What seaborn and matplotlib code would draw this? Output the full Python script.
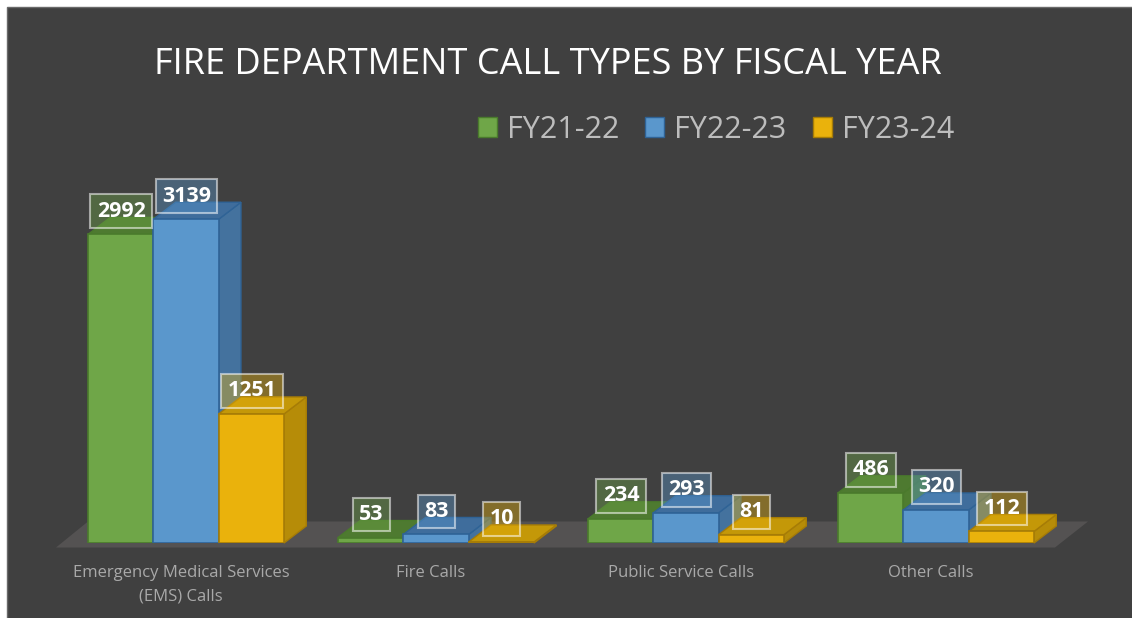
import pandas as pd
import matplotlib
matplotlib.use('Agg')
import matplotlib.pyplot as plt
import seaborn as sns
from matplotlib.patches import Polygon, Rectangle
from matplotlib.transforms import ScaledTranslation

# ─────────────────────────────────────────────
# DATA
# ─────────────────────────────────────────────
categories = ['Emergency Medical Services\n(EMS) Calls', 'Fire Calls',
              'Public Service Calls', 'Other Calls']
fiscal_years = ['FY21-22', 'FY22-23', 'FY23-24']
fy21_22 = [2992, 53, 234, 486]
fy22_23 = [3139, 83, 293, 320]
fy23_24 = [1251, 10, 81, 112]

front_colors = ['#6fa648', '#5a97cc', '#eab20c']
edge_colors = ['#4a7a2c', '#2f6396', '#a67c06']
side_colors = ['#4f7d30', '#44729e', '#b68c08']
top_colors = ['#4e7a30', '#3f6d9c', '#c49808']

df = pd.DataFrame({'category': categories, 'FY21-22': fy21_22,
                   'FY22-23': fy22_23, 'FY23-24': fy23_24})
df = df.melt(id_vars='category', var_name='fy', value_name='calls')

# ─────────────────────────────────────────────
# FIGURE
# ─────────────────────────────────────────────
W, H = 1132, 618
plt.rcParams['font.family'] = ['Open Sans', 'DejaVu Sans']
fig = plt.figure(figsize=(W / 100, H / 100), dpi=100, facecolor='white')
fig.add_artist(Rectangle((7 / W, -0.01), 1.01 - 7 / W, 1.01 - 7 / H, transform=fig.transFigure,
                         facecolor='#404040', edgecolor='#6a6a6a', linewidth=1, zorder=-1))

YMAX = 3500
ax = fig.add_axes([61 / W, 1 - 543 / H, 1000 / W, 361 / H])
ax.patch.set_alpha(0)

sns.barplot(data=df, x='category', y='calls', hue='fy', hue_order=fiscal_years,
            palette=front_colors, saturation=1, width=0.784, gap=0, ax=ax)
ax.set_xlim(-0.5, 3.5)
ax.set_ylim(0, YMAX)

px_x = 1 / 250                # one pixel in x data units
px_y = YMAX / 361             # one pixel in y data units
dx, dy = 22.3 * px_x, 17 * px_y

# floor plane
ax.add_patch(Polygon([(-5 * px_x - 0.5, -4.5 * px_y), (27 * px_x - 0.5, 21.5 * px_y),
                      (1027 * px_x - 0.5, 21.5 * px_y), (994 * px_x - 0.5, -4.5 * px_y)],
                     closed=True, facecolor='#545252', edgecolor='none',
                     clip_on=False, zorder=1))

# ─────────────────────────────────────────────
# 3D FACES AND DATA LABELS
# ─────────────────────────────────────────────
for i, container in enumerate(ax.containers):
    z = 3 + i
    for bar in container:
        x0, x1 = bar.get_x(), bar.get_x() + bar.get_width()
        h = bar.get_height()
        bar.set_facecolor(front_colors[i])
        bar.set_edgecolor(edge_colors[i])
        bar.set_linewidth(1.2)
        bar.set_zorder(z)
        ax.add_patch(Polygon([(x1, 0), (x1 + dx, dy), (x1 + dx, h + dy), (x1, h)],
                             closed=True, facecolor=side_colors[i], edgecolor=edge_colors[i],
                             linewidth=1, clip_on=False, zorder=z - 0.5))
        ax.add_patch(Polygon([(x0, h), (x0 + dx, h + dy), (x1 + dx, h + dy), (x1, h)],
                             closed=True, facecolor=top_colors[i], edgecolor=edge_colors[i],
                             linewidth=1, clip_on=False, zorder=z - 0.5))
        ax.text((x0 + x1) / 2 + 0.5 * px_x, h + 23 * px_y, f'{int(h)}',
                ha='center', va='center', color='white', fontsize=15.4, fontweight='bold',
                zorder=10, clip_on=False,
                bbox=dict(boxstyle='square,pad=0.3', facecolor=front_colors[i] + '66',
                          edgecolor='#ffffff88', linewidth=1.5))

# ─────────────────────────────────────────────
# AXES, TITLE, LEGEND
# ─────────────────────────────────────────────
sns.despine(ax=ax, left=True, bottom=True)
ax.set_xlabel('')
ax.set_ylabel('')
ax.set_yticks([])
ax.tick_params(axis='x', length=0, pad=16)
ax.set_xticks(range(len(categories)))
ax.set_xticklabels(categories, color='#a9a9a9', fontsize=12, linespacing=1.58)
for label in ax.get_xticklabels():
    label.set_transform(label.get_transform() + ScaledTranslation(-5 / 100, 0, fig.dpi_scale_trans))

sns.move_legend(ax, 'center left', bbox_to_anchor=(478 / W, 1 - 130 / H),
                bbox_transform=fig.transFigure, ncol=3, frameon=False, title=None,
                fontsize=22, labelcolor='#bdbdbd', handlelength=0.62, handleheight=0.62,
                handletextpad=0.33, columnspacing=0.85, borderpad=0, borderaxespad=0)
for handle, edge in zip(ax.get_legend().get_patches(), edge_colors):
    handle.set_edgecolor(edge)

fig.text(548 / W, 1 - 65 / H, 'FIRE DEPARTMENT CALL TYPES BY FISCAL YEAR',
         ha='center', va='center', color='white', fontsize=26)

plt.savefig('out.png', dpi=100, facecolor='white')
plt.close()
